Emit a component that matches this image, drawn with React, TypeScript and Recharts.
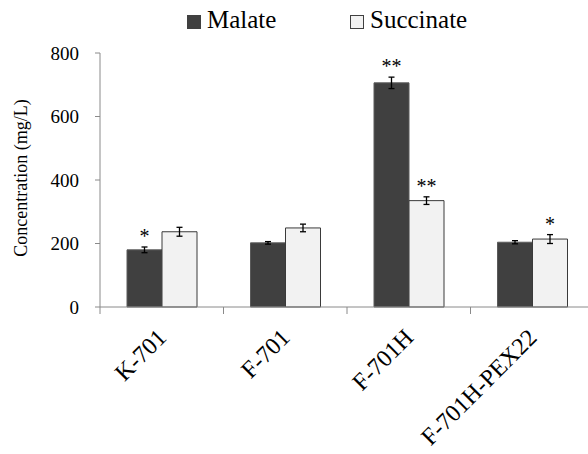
import { Bar, BarChart, ErrorBar, LabelList, XAxis, YAxis } from "recharts";

const strains = ["K-701", "F-701", "F-701H", "F-701H-PEX22"];
const malate = [180, 202, 706, 204];
const malateErr = [9, 4, 18, 5];
const malateSig = ["*", "", "**", ""];
const succinate = [237, 249, 335, 214];
const succinateErr = [14, 12, 12, 14];
const succinateSig = ["", "", "**", "*"];
const yTicks = [0, 200, 400, 600, 800];

const FONT = "Liberation Serif, DejaVu Serif, Times New Roman, serif";
const AXIS = "#8a8a8a";

const data = strains.map((name, i) => ({
  name,
  malate: malate[i],
  malateErr: malateErr[i],
  succinate: succinate[i],
  succinateErr: succinateErr[i],
}));

// tick marks sit on the category boundaries, labels are rotated under the centre
const StrainTick = (props: any) => {
  const { x, y, payload } = props;
  const half = payload?.offset ?? 61.75;
  const bx = x - half;
  const tx = x + 6;
  const ty = y + 25;
  return (
    <g>
      <line x1={bx} x2={bx} y1={y - 7} y2={y} stroke={AXIS} strokeWidth={1} />
      <text
        x={tx}
        y={ty}
        textAnchor="end"
        style={{ fontFamily: FONT }}
        fontSize={24}
        fill="#000"
        transform={`rotate(-45, ${tx}, ${ty})`}
      >
        {payload.value}
      </text>
    </g>
  );
};

// significance stars above the error bar cap
const starLabel = (sig: string[], values: number[], errs: number[]) => (props: any) => {
  const { x, y, width, height, index } = props;
  const s = sig[index];
  if (!s) return null;
  const errPx = (errs[index] * height) / values[index];
  return (
    <text
      x={x + width / 2}
      y={y - errPx - 4}
      textAnchor="middle"
      style={{ fontFamily: FONT }}
      fontSize={20}
      fill="#000"
    >
      {s}
    </text>
  );
};

const legendItems = [
  { name: "Malate", fill: "#404040", left: 187 },
  { name: "Succinate", fill: "#f2f2f2", left: 350 },
];

export default function App() {
  return (
    <div
      style={{
        position: "absolute",
        left: 0,
        top: 0,
        width: 588,
        height: 454,
        overflow: "hidden",
        background: "#fff",
        fontFamily: FONT,
      }}
    >
      {legendItems.map((item) => (
        <div
          key={item.name}
          style={{
            position: "absolute",
            left: item.left,
            top: 6,
            display: "flex",
            alignItems: "center",
            fontFamily: FONT,
            fontSize: 25,
            color: "#000",
            whiteSpace: "nowrap",
          }}
        >
          <span
            style={{
              display: "inline-block",
              width: 12,
              height: 12,
              background: item.fill,
              border: "1px solid #404040",
              marginRight: 6,
              marginTop: 3,
            }}
          />
          {item.name}
        </div>
      ))}
      <BarChart
        width={600}
        height={454}
        data={data}
        margin={{ top: 53, right: 6, bottom: 0, left: 0 }}
        barGap={0}
        style={{ fontFamily: FONT }}
      >
        <XAxis
          dataKey="name"
          height={147}
          axisLine={{ stroke: AXIS }}
          tickLine={false}
          tickSize={7}
          tickMargin={0}
          interval={0}
          tick={<StrainTick />}
        />
        <YAxis
          width={100}
          domain={[0, 800]}
          ticks={yTicks}
          axisLine={{ stroke: AXIS }}
          tickLine={{ stroke: AXIS }}
          tickSize={5}
          tickMargin={16}
          tick={{ fill: "#000", fontSize: 19, style: { fontFamily: FONT } }}
          label={{
            content: (p: any) => {
              const vb = p.viewBox;
              const cy = vb.y + vb.height / 2 - 2;
              return (
                <text
                  x={27}
                  y={cy}
                  textAnchor="middle"
                  style={{ fontFamily: FONT }}
                  fontSize={18}
                  fill="#000"
                  transform={`rotate(-90, 27, ${cy})`}
                >
                  Concentration (mg/L)
                </text>
              );
            },
          }}
        />
        <Bar
          dataKey="malate"
          barSize={35}
          fill="#404040"
          stroke="#5a5a5a"
          strokeWidth={1}
          isAnimationActive={false}
        >
          <ErrorBar dataKey="malateErr" width={3} stroke="#000" strokeWidth={1.3} direction="y" />
          <LabelList content={starLabel(malateSig, malate, malateErr)} />
        </Bar>
        <Bar
          dataKey="succinate"
          barSize={35}
          fill="#f2f2f2"
          stroke="#3a3a3a"
          strokeWidth={1}
          isAnimationActive={false}
        >
          <ErrorBar dataKey="succinateErr" width={3} stroke="#000" strokeWidth={1.3} direction="y" />
          <LabelList content={starLabel(succinateSig, succinate, succinateErr)} />
        </Bar>
      </BarChart>
    </div>
  );
}
